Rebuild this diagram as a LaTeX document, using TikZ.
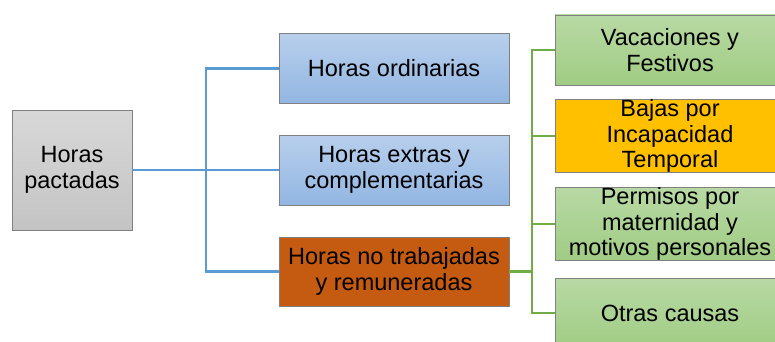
\documentclass[tikz,border=0pt]{standalone}
\usepackage{fontspec}
\setmainfont{Liberation Sans}
\definecolor{lineblue}{RGB}{91,155,213}
\definecolor{linegreen}{RGB}{112,173,71}
\definecolor{boxedge}{RGB}{128,128,128}
\definecolor{orangebox}{RGB}{197,90,17}
\definecolor{yellowbox}{RGB}{255,192,0}
\begin{document}
\begin{tikzpicture}[x=1pt, y=-1pt,
        box/.style = {draw=boxedge, line width=0.8pt, inner sep=0pt, align=center,
            minimum width=230pt, minimum height=70pt,
            font=\fontsize{23.5}{25.5}\selectfont},
        grey/.style = {box, top color={rgb,255:red,216;green,216;blue,216}, bottom color={rgb,255:red,196;green,196;blue,196}},
        blue/.style = {box, top color={rgb,255:red,184;green,207;blue,236}, bottom color={rgb,255:red,146;green,182;blue,226}},
        green/.style = {box, top color={rgb,255:red,184;green,217;blue,164}, bottom color={rgb,255:red,160;green,204;blue,132}},
        bline/.style = {draw=lineblue, line width=2.4pt},
        gline/.style = {draw=linegreen, line width=2.4pt}]
        \clip (0,0) rectangle (775,342);
        \node[grey, minimum width=120pt, minimum height=120pt] (pact) at (72,170) {Horas\\pactadas};
        \node[blue] (ord) at (394,68.5) {Horas ordinarias};
        \node[blue] (ext) at (394,170) {Horas extras y\\complementarias};
        \node[box, fill=orangebox, minimum height=69pt] (notr) at (394,271.5) {Horas no trabajadas\\y remuneradas};
        \node[green] (vac) at (670,50) {Vacaciones y\\Festivos};
        \node[box, fill=yellowbox] (baja) at (670,136) {Bajas por\\Incapacidad\\Temporal};
        \node[green] (perm) at (670,224) {Permisos por\\maternidad y\\motivos personales};
        \node[green] (otra) at (670,313) {Otras causas};
        \coordinate (j1) at (206,170);
        \coordinate (j2) at (532,271.5);
        \draw[bline] (pact) -- (ext);
        \draw[bline] (ord.west) -| (j1) |- (notr.west);
        \draw[gline] (notr) -- (j2);
        \draw[gline] (vac.west) -| (j2) |- (otra.west);
        \draw[gline] (baja.west) -- (baja.west -| j2);
        \draw[gline] (perm.west) -- (perm.west -| j2);
    \end{tikzpicture}
\end{document}
